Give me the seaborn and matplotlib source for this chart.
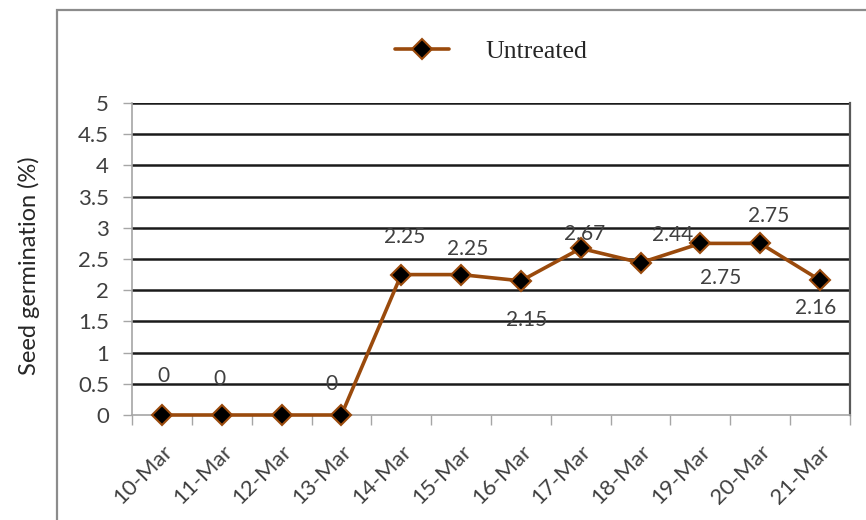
import matplotlib
matplotlib.use("Agg")
import matplotlib.pyplot as plt
from matplotlib.patches import Rectangle
from matplotlib.transforms import ScaledTranslation
import seaborn as sns
import pandas as pd

# Daily germination readings
dates = ["10-Mar", "11-Mar", "12-Mar", "13-Mar", "14-Mar", "15-Mar",
         "16-Mar", "17-Mar", "18-Mar", "19-Mar", "20-Mar", "21-Mar"]
germination = [0, 0, 0, 0, 2.25, 2.25, 2.15, 2.67, 2.44, 2.75, 2.75, 2.16]
series_name = "Untreated"
y_ticks = [0, 0.5, 1, 1.5, 2, 2.5, 3, 3.5, 4, 4.5, 5]

# Value labels and where each sits relative to its point (pixels)
label_text = ["0", "0", None, "0", "2.25", "2.25", "2.15", "2.67",
              "2.44", "2.75", "2.75", "2.16"]
label_offset = [(2, 39), (-2, 36), (0, 0), (-10, 31), (3, 38), (7, 26),
                (6, -39), (4, 14), (32, 28), (20, -35), (8, 27), (-4, -28)]

df = pd.DataFrame({"date": dates, "value": germination, "series": series_name})

sns.set_theme(style="white")
plt.rcParams["font.family"] = ["Lato", "DejaVu Sans"]

line_color = "#9a4a0c"
text_gray = "#404040"
axis_gray = "#a6a6a6"

fig = plt.figure(figsize=(8.66, 5.2), dpi=100)
ax = fig.add_axes([132 / 866, 105 / 520, (850 - 132) / 866, (415 - 103) / 520])

# Outer chart frame
fig.patches.append(Rectangle((57 / 866, -0.05), 1.0, 0.05 + (520 - 10) / 520,
                             transform=fig.transFigure, fill=False,
                             edgecolor="#8c8c8c", linewidth=1.6, zorder=0))

sns.lineplot(data=df, x="date", y="value", hue="series", sort=False,
             palette=[line_color], linewidth=2.6, marker="D",
             markersize=10.5, markerfacecolor="black",
             markeredgecolor=line_color, markeredgewidth=1.5, ax=ax, zorder=5)
for ln in ax.lines:
    ln.set_clip_on(False)

ax.set_xlim(-0.5, len(dates) - 0.5)
ax.set_ylim(0, 5)
ax.set_yticks(y_ticks)
ax.set_yticklabels([f"{t:g}" for t in y_ticks])
ax.set_xticks(range(len(dates)))
ax.set_xticklabels(dates, rotation=45, ha="right", rotation_mode="anchor")
shift = ScaledTranslation(5 / 100, 0, fig.dpi_scale_trans)
for lbl in ax.get_xticklabels():
    lbl.set_transform(lbl.get_transform() + shift)

# Horizontal gridlines
for t in y_ticks[1:]:
    ax.axhline(t, color="#1a1a1a", linewidth=1.8, zorder=1)

ax.tick_params(axis="y", which="major", length=6.5, width=1, color=axis_gray,
               labelsize=16, labelcolor=text_gray, pad=10, left=True)
ax.tick_params(axis="x", which="major", length=0, labelsize=16,
               labelcolor=text_gray, pad=19)
ax.set_xticks([i - 0.5 for i in range(len(dates) + 1)], minor=True)
ax.tick_params(axis="x", which="minor", length=7, width=1, color=axis_gray,
               bottom=True)

for side in ["left", "bottom"]:
    ax.spines[side].set_color(axis_gray)
    ax.spines[side].set_linewidth(1.2)
ax.spines["right"].set_color("#595959")
ax.spines["right"].set_linewidth(1.6)
ax.spines["top"].set_visible(False)

ax.set_xlabel("")
ax.set_ylabel("Seed germination (%)", fontsize=17, color="#262626")
ax.yaxis.set_label_coords((40 - 132) / 718, 0.48)

for i, (txt, (dx, dy)) in enumerate(zip(label_text, label_offset)):
    if txt is None:
        continue
    ax.annotate(txt, (i, germination[i]), xytext=(dx, dy),
                textcoords="offset pixels", ha="center", va="center",
                fontsize=15, color=text_gray, zorder=6)

ax.legend(loc="center", bbox_to_anchor=(491 / 866, 1 - 52 / 520),
          bbox_transform=fig.transFigure, frameon=False,
          prop={"family": "Liberation Serif", "size": 18.5},
          handlelength=2.1, handletextpad=1.4)

fig.savefig("out.png", dpi=100)
